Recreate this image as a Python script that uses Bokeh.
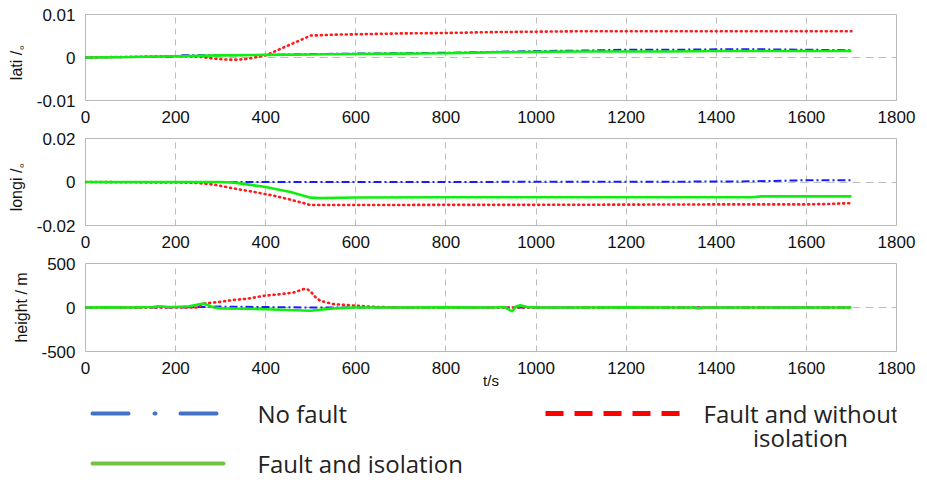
from bokeh.plotting import figure
from bokeh.layouts import column
from bokeh.models import Range1d, FixedTicker, CustomJSTickFormatter, Label
from bokeh.embed import file_html
from bokeh.resources import INLINE

# ---------------- data ----------------
x_ticks = [0, 200, 400, 600, 800, 1000, 1200, 1400, 1600, 1800]

# latitude error (deg)
t_lati_blue = [0, 200, 210, 300, 400, 500, 600, 700, 800, 900, 1000, 1100, 1200, 1300, 1400, 1500, 1600, 1700]
lati_blue = [0, 0.0002, 0.0005, 0.0005, 0.0006, 0.0008, 0.0009, 0.001, 0.0011, 0.0013, 0.0015, 0.0016, 0.0018, 0.0018, 0.0019, 0.0019, 0.0018, 0.0017]
t_lati_red = [0, 200, 250, 280, 300, 320, 340, 360, 380, 400, 450, 500, 550, 600, 700, 800, 900, 1000, 1100, 1200, 1400, 1600, 1700]
lati_red = [0, 0.0003, 0.0002, -0.0002, -0.0004, -0.0005, -0.0005, -0.0003, 0.0001, 0.0005, 0.0028, 0.0051, 0.0053, 0.0054, 0.0056, 0.0057, 0.0059, 0.006, 0.0061, 0.0061, 0.0061, 0.0061, 0.0061]
t_lati_green = [0, 100, 200, 300, 400, 500, 600, 700, 800, 900, 1000, 1100, 1200, 1300, 1400, 1500, 1600, 1700]
lati_green = [0, 0.0001, 0.0003, 0.0005, 0.0006, 0.0007, 0.0008, 0.0009, 0.001, 0.0012, 0.0013, 0.0014, 0.0014, 0.0014, 0.0015, 0.0015, 0.0015, 0.0015]

# longitude error (deg)
t_longi_blue = [0, 250, 400, 600, 800, 1000, 1200, 1400, 1480, 1550, 1600, 1700]
longi_blue = [0, 0, 0, 0, 0, 0.0001, 0.0001, 0.0002, 0.0003, 0.0006, 0.0008, 0.0008]
t_longi_red = [0, 240, 285, 330, 375, 420, 460, 500, 600, 800, 1000, 1200, 1400, 1600, 1650, 1700]
longi_red = [0, -0.0003, -0.0012, -0.003, -0.0046, -0.0064, -0.0084, -0.0106, -0.0106, -0.0105, -0.0105, -0.0104, -0.0103, -0.0103, -0.0101, -0.0097]
t_longi_green = [0, 300, 330, 400, 455, 500, 520, 600, 800, 1000, 1200, 1400, 1480, 1500, 1600, 1700]
longi_green = [0, 0, -0.0003, -0.0023, -0.0046, -0.0072, -0.0074, -0.0071, -0.007, -0.007, -0.007, -0.007, -0.007, -0.0066, -0.0066, -0.0066]

# height error (m)
t_height_blue = [0, 200, 250, 300, 400, 500, 560, 700, 1700]
height_blue = [0, 0, 5, 10, 5, 0, 0, 0, 0]
t_height_red = [0, 250, 262, 300, 330, 360, 396, 430, 462, 484, 492, 500, 510, 521, 551, 580, 617, 650, 700, 1700]
height_red = [0, 0, 45, 65, 87, 100, 133, 150, 170, 209, 209, 180, 120, 76, 38, 28, 15, 5, 0, 0]
t_height_green = [0, 50, 100, 150, 160, 180, 200, 230, 262, 285, 300, 350, 400, 450, 500, 550, 600, 700, 800, 900, 930, 947, 955, 965, 980, 1000, 1100, 1200, 1300, 1350, 1360, 1370, 1400, 1500, 1600, 1700]
height_green = [0, 3, 0, 5, 15, 8, 5, 15, 45, 0, -10, -15, -20, -28, -37, -10, 0, 0, 2, 0, 5, -45, 10, 25, 5, 0, 0, 2, 0, 0, -10, 0, 0, 0, 0, 0]

legend_labels = ["No fault", "Fault and without", "isolation", "Fault and isolation"]

BLUE = "#1a1aff"
RED = "#ff1a1a"
GREEN = "#10ee10"
TICK_FONT = "Liberation Sans"
W = 919
FRAME_L = 85
FRAME_R = 896


def panel(height, top, bottom, yr, yticks, ylabel, lab_standoff, xlabel=None):
    p = figure(width=W, height=height, x_range=Range1d(0, 1800), y_range=Range1d(*yr),
               output_backend="svg", toolbar_location=None,
               min_border_left=FRAME_L, min_border_right=W - FRAME_R,
               min_border_top=top, min_border_bottom=bottom)
    p.background_fill_color = "white"
    p.border_fill_color = "white"
    p.outline_line_color = "#b8b8b8"
    p.outline_line_width = 1
    p.xaxis.ticker = FixedTicker(ticks=x_ticks)
    p.yaxis.ticker = FixedTicker(ticks=yticks)
    p.yaxis.formatter = CustomJSTickFormatter(code="return String(Number(tick.toFixed(4)));")
    for ax in (p.xaxis[0], p.yaxis[0]):
        ax.axis_line_color = None
        ax.major_tick_line_color = None
        ax.minor_tick_line_color = None
        ax.major_label_text_font = TICK_FONT
        ax.major_label_text_font_size = "17px"
        ax.major_label_text_color = "#111111"
        ax.major_label_standoff = 4
    p.yaxis.axis_label = ylabel
    p.yaxis.axis_label_text_font = TICK_FONT
    p.yaxis.axis_label_text_font_size = "16px"
    p.yaxis.axis_label_text_font_style = "normal"
    p.yaxis.axis_label_text_color = "#111111"
    p.yaxis.axis_label_standoff = lab_standoff
    if xlabel:
        p.xaxis.axis_label = xlabel
        p.xaxis.axis_label_text_font = TICK_FONT
        p.xaxis.axis_label_text_font_size = "15px"
        p.xaxis.axis_label_text_font_style = "normal"
        p.xaxis.axis_label_text_color = "#111111"
        p.xaxis.axis_label_standoff = -5
    p.xgrid.grid_line_color = "#bdbdbd"
    p.xgrid.grid_line_dash = "6 5"
    p.ygrid.grid_line_color = "#bdbdbd"
    p.ygrid.grid_line_dash = "8 5"
    return p


def draw(p, tb, yb, tr, yr_, tg, yg):
    p.line(tb, yb, line_color=BLUE, line_width=2, line_dash="8 3 2 3")
    p.line(tr, yr_, line_color=RED, line_width=2.6, line_dash="1 4", line_cap="round")
    p.line(tg, yg, line_color=GREEN, line_width=2.6)


p1 = panel(128, 14, 28, (-0.01, 0.01), [-0.01, 0, 0.01], "lati /。", 9)
draw(p1, t_lati_blue, lati_blue, t_lati_red, lati_red, t_lati_green, lati_green)

p2 = panel(125, 10, 28, (-0.02, 0.02), [-0.02, 0, 0.02], "longi /。", 9)
draw(p2, t_longi_blue, longi_blue, t_longi_red, longi_red, t_longi_green, longi_green)

p3 = panel(142, 10, 44, (-500, 500), [-500, 0, 500], "height / m", 8, xlabel="t/s")
draw(p3, t_height_blue, height_blue, t_height_red, height_red, t_height_green, height_green)

# ---------------- legend (frame aligned with the panels above; x in page pixels) ----------------
LH = 85
leg = figure(width=W, height=LH, x_range=Range1d(FRAME_L, FRAME_R), y_range=Range1d(LH, 0),
             output_backend="svg", toolbar_location=None, x_axis_type=None, y_axis_type=None,
             min_border_left=FRAME_L, min_border_right=W - FRAME_R, min_border_top=0, min_border_bottom=0)
leg.outline_line_color = None
leg.xgrid.visible = False
leg.ygrid.visible = False
leg.segment(x0=[92], y0=[18], x1=[216], y1=[18], line_color="#4472c4", line_width=4,
            line_dash="36 26 1 25", line_cap="round")
leg.segment(x0=[545], y0=[18], x1=[680], y1=[18], line_color="#ff0000", line_width=5,
            line_dash="18 11")
leg.segment(x0=[92], y0=[68], x1=[223], y1=[68], line_color="#76c043", line_width=4,
            line_cap="round")
for txt, lx, ly, al in zip(legend_labels, [257, 703, 800, 257], [18, 18, 42, 68],
                           ["left", "left", "center", "left"]):
    leg.add_layout(Label(x=lx, y=ly, text=txt, text_align=al, text_baseline="middle",
                         text_font="Open Sans", text_font_size="24px", text_color="#222222"))

layout = column(p1, p2, p3, leg, spacing=0)
open("out.html", "w").write(file_html(layout, INLINE))
